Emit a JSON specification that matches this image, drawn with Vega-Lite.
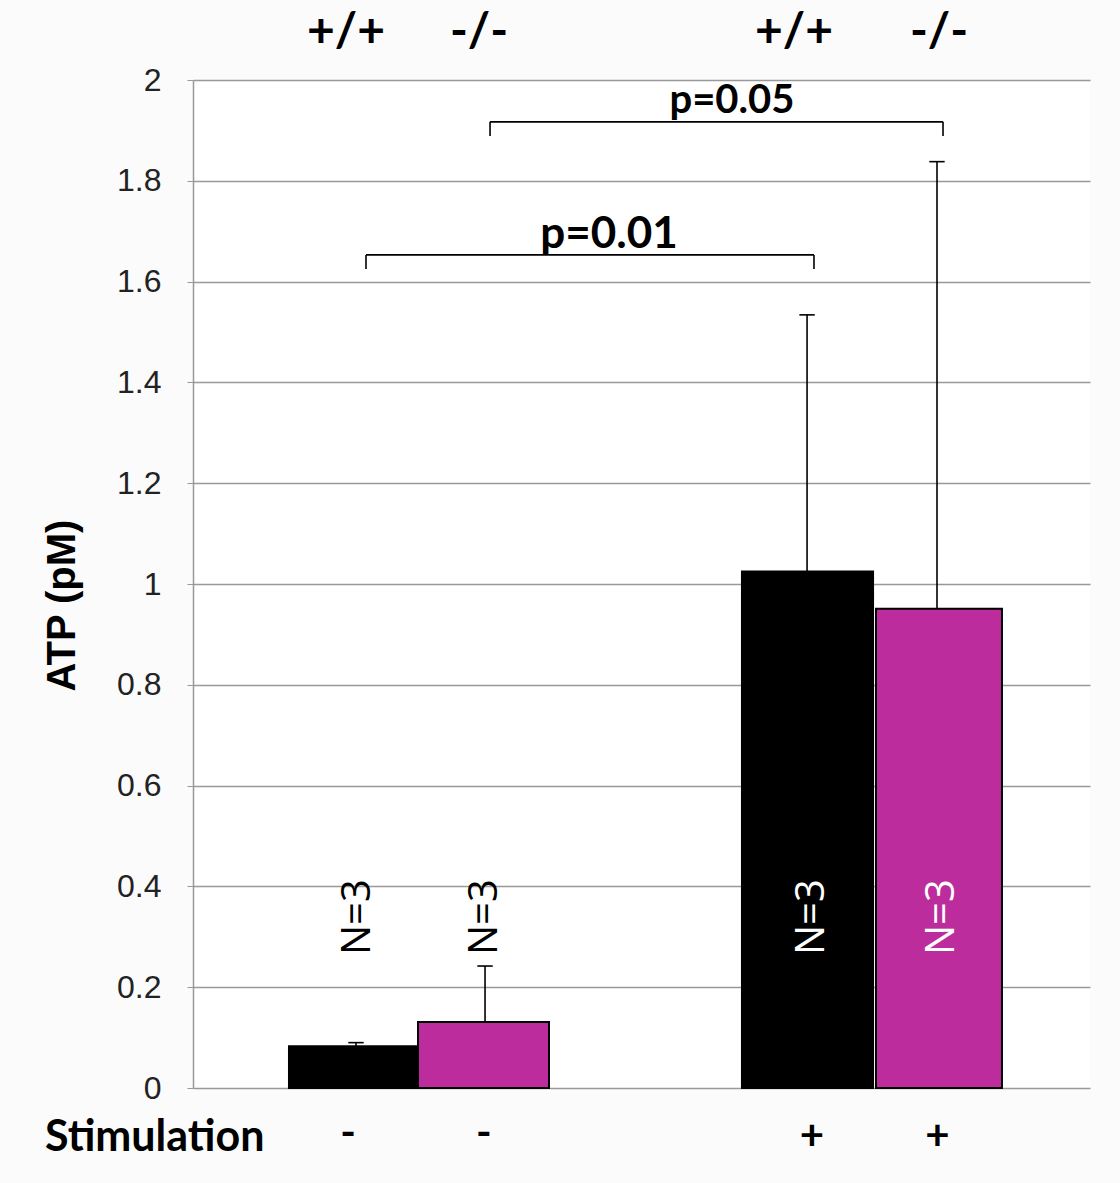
{
  "$schema": "https://vega.github.io/schema/vega-lite/v6.json",
  "autosize": {"type": "none"},
  "width": 897,
  "height": 1008,
  "padding": {"left": 193, "top": 80, "right": 30, "bottom": 95},
  "background": "#fbfbfb",
  "config": {"view": {"stroke": null, "fill": "white"}},
  "datasets": {
    "bars": [
      {"group": "+/+", "stim": "-", "x": 0.749, "x2": 1.756, "y": 0.083},
      {"group": "-/-", "stim": "-", "x": 1.756, "x2": 2.778, "y": 0.131},
      {"group": "+/+", "stim": "+", "x": 4.284, "x2": 5.307, "y": 1.025},
      {"group": "-/-", "stim": "+", "x": 5.330, "x2": 6.313, "y": 0.951}
    ],
    "lines": [
      {"part": "err", "x": 1.272, "x2": 1.272, "y": 0.083, "y2": 0.090},
      {"part": "cap", "x": 1.212, "x2": 1.332, "y": 0.090, "y2": 0.090},
      {"part": "err", "x": 2.279, "x2": 2.279, "y": 0.131, "y2": 0.242},
      {"part": "cap", "x": 2.219, "x2": 2.339, "y": 0.242, "y2": 0.242},
      {"part": "err", "x": 4.792, "x2": 4.792, "y": 1.025, "y2": 1.534},
      {"part": "cap", "x": 4.732, "x2": 4.852, "y": 1.534, "y2": 1.534},
      {"part": "err", "x": 5.806, "x2": 5.806, "y": 0.951, "y2": 1.838},
      {"part": "cap", "x": 5.746, "x2": 5.866, "y": 1.838, "y2": 1.838},
      {"part": "bracket", "x": 2.318, "x2": 5.853, "y": 1.917, "y2": 1.917},
      {"part": "bracket", "x": 2.318, "x2": 2.318, "y": 1.917, "y2": 1.889},
      {"part": "bracket", "x": 5.853, "x2": 5.853, "y": 1.917, "y2": 1.889},
      {"part": "bracket", "x": 1.350, "x2": 4.846, "y": 1.653, "y2": 1.653},
      {"part": "bracket", "x": 1.350, "x2": 1.350, "y": 1.653, "y2": 1.625},
      {"part": "bracket", "x": 4.846, "x2": 4.846, "y": 1.653, "y2": 1.625}
    ],
    "genotype": [
      {"label": "+/+", "x": 1.194, "y": 2.093},
      {"label": "-/-", "x": 2.232, "y": 2.093},
      {"label": "+/+", "x": 4.690, "y": 2.093},
      {"label": "-/-", "x": 5.822, "y": 2.093}
    ],
    "p05": [{"label": "p=0.05", "x": 4.206, "y": 1.935}],
    "p01": [{"label": "p=0.01", "x": 3.246, "y": 1.667}],
    "stimtitle": [{"label": "Stimulation", "x": -1.155, "y": -0.099}],
    "stimsigns": [
      {"label": "-", "x": 1.21, "y": -0.092},
      {"label": "-", "x": 2.27, "y": -0.092},
      {"label": "+", "x": 4.83, "y": -0.098},
      {"label": "+", "x": 5.81, "y": -0.098}
    ],
    "nlabels": [
      {"label": "N=3", "x": 1.288, "y": 0.339, "inside": "no"},
      {"label": "N=3", "x": 2.280, "y": 0.339, "inside": "no"},
      {"label": "N=3", "x": 4.830, "y": 0.339, "inside": "yes"},
      {"label": "N=3", "x": 5.845, "y": 0.339, "inside": "yes"}
    ]
  },
  "encoding": {
    "x": {"field": "x", "type": "quantitative", "scale": {"domain": [0, 7]}, "axis": null},
    "y": {
      "field": "y",
      "type": "quantitative",
      "scale": {"domain": [0, 2]},
      "axis": {
        "title": "ATP (pM)",
        "titleFont": "Liberation Sans",
        "titleFontSize": 40,
        "titleFontWeight": "bold",
        "titleColor": "black",
        "titlePadding": 34,
        "titleY": 525,
        "values": [0, 0.2, 0.4, 0.6, 0.8, 1, 1.2, 1.4, 1.6, 1.8, 2],
        "format": "~g",
        "labelFont": "Liberation Sans",
        "labelFontSize": 32,
        "labelColor": "#222",
        "labelPadding": 26,
        "tickSize": 6,
        "tickColor": "#999",
        "domainColor": "#999",
        "domainWidth": 1.5,
        "gridColor": "#999",
        "gridWidth": 1.5,
        "grid": true
      }
    }
  },
  "layer": [
    {
      "data": {"name": "bars"},
      "mark": {"type": "rect", "stroke": "black", "strokeWidth": 2},
      "encoding": {
        "x2": {"field": "x2"},
        "y2": {"datum": 0},
        "fill": {
          "field": "group",
          "type": "nominal",
          "scale": {"domain": ["+/+", "-/-"], "range": ["#000000", "#bc2c9c"]},
          "legend": null
        }
      }
    },
    {
      "data": {"name": "lines"},
      "mark": {"type": "rule", "color": "black", "strokeWidth": 1.6},
      "encoding": {"x2": {"field": "x2"}, "y2": {"field": "y2"}}
    },
    {
      "data": {"name": "genotype"},
      "mark": {"type": "text", "font": "Lato", "fontWeight": "bold", "fontSize": 48, "baseline": "middle", "align": "center", "color": "black", "clip": false},
      "encoding": {"text": {"field": "label"}}
    },
    {
      "data": {"name": "p05"},
      "mark": {"type": "text", "font": "Lato", "fontWeight": "bold", "fontSize": 40, "baseline": "alphabetic", "align": "center", "color": "black"},
      "encoding": {"text": {"field": "label"}}
    },
    {
      "data": {"name": "p01"},
      "mark": {"type": "text", "font": "Lato", "fontWeight": "bold", "fontSize": 44, "baseline": "alphabetic", "align": "center", "color": "black"},
      "encoding": {"text": {"field": "label"}}
    },
    {
      "data": {"name": "stimtitle"},
      "mark": {"type": "text", "font": "Lato", "fontWeight": "bold", "fontSize": 43, "baseline": "middle", "align": "left", "color": "black"},
      "encoding": {"text": {"field": "label"}}
    },
    {
      "data": {"name": "stimsigns"},
      "mark": {"type": "text", "font": "Lato", "fontWeight": "bold", "fontSize": 42, "baseline": "middle", "align": "center", "color": "black"},
      "encoding": {"text": {"field": "label"}}
    },
    {
      "data": {"name": "nlabels"},
      "mark": {"type": "text", "font": "Open Sans", "fontSize": 40, "angle": 270, "baseline": "middle", "align": "center"},
      "encoding": {
        "text": {"field": "label"},
        "color": {
          "field": "inside",
          "type": "nominal",
          "scale": {"domain": ["no", "yes"], "range": ["black", "white"]},
          "legend": null
        }
      }
    }
  ]
}
